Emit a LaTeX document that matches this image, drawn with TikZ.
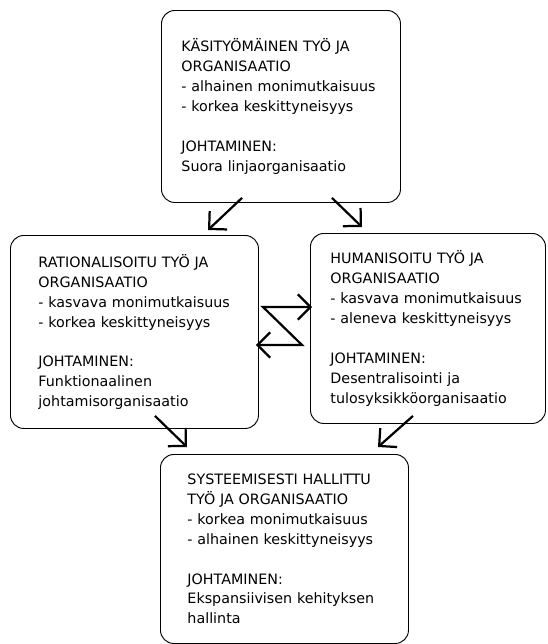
\documentclass[tikz,border=0pt]{standalone}
\usepackage{fontspec}
\setmainfont{DejaVu Sans}
\usetikzlibrary{arrows.meta,calc}

\begin{document}
\begin{tikzpicture}[x=0.03cm,y=-0.03cm,>={Straight Barb[length=3.8mm,width=7.6mm]},
    every node/.style={font=\fontsize{12.2}{17}\selectfont},
    box/.style={draw,line width=0.8pt,rounded corners=0.4cm,align=left,anchor=north west,inner ysep=0pt},
    arr/.style={->,line width=1.9pt}]
    \useasboundingbox (0,0) rectangle (547,644);

    \node[box,minimum width=7.17cm,minimum height=5.76cm,text width=5.97cm,inner xsep=0.6cm] (KT) at (161,10)
        {KÄSITYÖMÄINEN TYÖ JA\\ ORGANISAATIO\\ - alhainen monimutkaisuus\\ - korkea keskittyneisyys\\[17pt] JOHTAMINEN:\\ Suora linjaorganisaatio};
    \node[box,minimum width=7.44cm,minimum height=5.79cm,text width=5.76cm,inner xsep=0.84cm] (RT) at (10,235)
        {RATIONALISOITU TYÖ JA\\ ORGANISAATIO\\ - kasvava monimutkaisuus\\ - korkea keskittyneisyys\\[17pt] JOHTAMINEN:\\ Funktionaalinen\\ johtamisorganisaatio};
    \node[box,minimum width=7.05cm,minimum height=5.7cm,text width=5.85cm,inner xsep=0.6cm] (HT) at (310,233)
        {HUMANISOITU TYÖ JA\\ ORGANISAATIO\\ - kasvava monimutkaisuus\\ - aleneva keskittyneisyys\\[17pt] JOHTAMINEN:\\ Desentralisointi ja\\ tulosyksikköorganisaatio};
    \node[box,minimum width=7.44cm,minimum height=5.67cm,text width=5.82cm,inner xsep=0.81cm] (ST) at (160,454)
        {SYSTEEMISESTI HALLITTU\\ TYÖ JA ORGANISAATIO\\ - korkea monimutkaisuus\\ - alhainen keskittyneisyys\\[17pt] JOHTAMINEN:\\ Ekspansiivisen kehityksen\\ hallinta};

    \draw[arr] ($(KT.south west)+(81,-5)$) -- ($(RT.north west)+(198,-5)$);
    \draw[arr] ($(KT.south west)+(171,-5)$) -- ($(HT.north west)+(52,-6)$);
    \draw[arr] ($(RT.south west)+(145,-13)$) -- ($(ST.north west)+(27,-7)$);
    \draw[arr] ($(HT.south west)+(103,-8)$) -- ($(ST.north west)+(218,-7)$);
    \draw[arr,<->] ($(RT.north east)+(-3,110)$) -- ($(HT.north west)+(-8,112)$)
        -- ($(HT.north west)+(-47,74)$) -- ($(HT.north west)+(2,74)$);
\end{tikzpicture}
\end{document}
